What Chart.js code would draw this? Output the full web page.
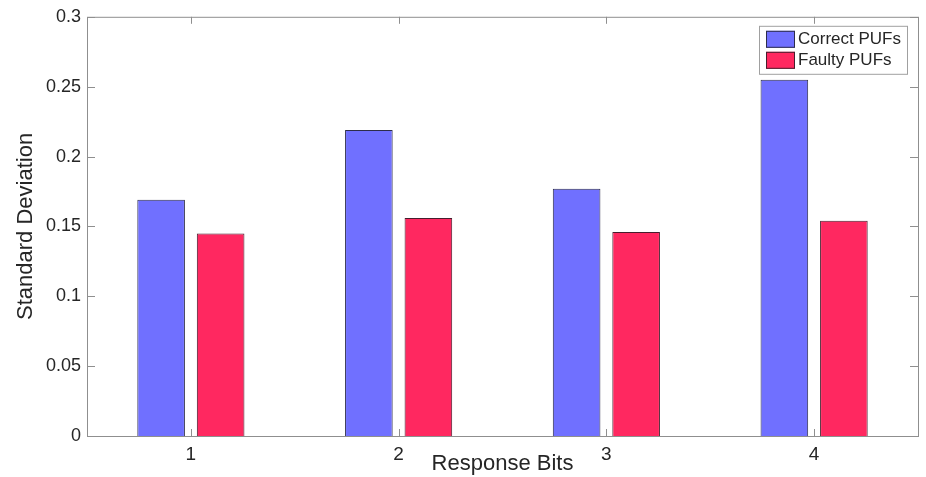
<!DOCTYPE html>
<html lang="en">
<head>
    <meta charset="UTF-8">
    <title>Standard Deviation per Response Bit</title>
    <script src="https://cdn.jsdelivr.net/npm/chart.js"></script>
    <style>
        html, body { margin: 0; padding: 0; background: #fff; }
        .chart-box { width: 926px; height: 477px; }
    </style>
</head>
<body>
<div class="chart-box">
    <canvas id="canvas"></canvas>
</div>

<script>
    // values
    const categories = ['1', '2', '3', '4'];
    const correctPufs = [0.169, 0.219, 0.177, 0.255];
    const faultyPufs = [0.145, 0.156, 0.146, 0.154];
    const yTickLabels = ['0', '0.05', '0.1', '0.15', '0.2', '0.25', '0.3'];

    const FONT = '"Liberation Sans", Arial, Helvetica, sans-serif';
    const TEXT = '#262626';
    const AXIS = '#8f8f8f';

    // matlab style box with inward ticks, plus framed legend in the top right
    const boxPlugin = {
        id: 'boxPlugin',
        afterDraw(chart) {
            const { ctx, chartArea: a, scales } = chart;
            ctx.save();
            ctx.strokeStyle = AXIS;
            ctx.lineWidth = 1;
            ctx.strokeRect(a.left + 0.5, a.top + 0.5, a.right - a.left, a.bottom - a.top);

            ctx.beginPath();
            scales.y.ticks.forEach((t, i) => {
                const y = Math.round(scales.y.getPixelForTick(i)) + 0.5;
                ctx.moveTo(a.left, y); ctx.lineTo(a.left + 8, y);
                ctx.moveTo(a.right, y); ctx.lineTo(a.right - 8, y);
            });
            scales.x.ticks.forEach((t, i) => {
                const x = Math.round(scales.x.getPixelForTick(i)) + 0.5;
                ctx.moveTo(x, a.bottom); ctx.lineTo(x, a.bottom - 7);
                ctx.moveTo(x, a.top); ctx.lineTo(x, a.top + 7);
            });
            ctx.stroke();

            // legend
            const lx = a.right - 159, ly = a.top + 9, lw = 148, lh = 48;
            ctx.fillStyle = '#fff';
            ctx.fillRect(lx, ly, lw, lh);
            ctx.strokeStyle = '#a0a0a0';
            ctx.strokeRect(lx + 0.5, ly + 0.5, lw, lh);
            ctx.font = '17px ' + FONT;
            ctx.textBaseline = 'middle';
            chart.data.datasets.forEach((ds, i) => {
                const cy = ly + 13 + i * 21;
                ctx.fillStyle = ds.backgroundColor;
                ctx.fillRect(lx + 7, cy - 8, 29, 17);
                ctx.strokeStyle = ds.borderColor;
                ctx.strokeRect(lx + 7.5, cy - 7.5, 28, 16);
                ctx.fillStyle = TEXT;
                ctx.fillText(ds.label, lx + 39, cy + 1);
            });
            ctx.restore();
        }
    };

    const ctx = document.getElementById('canvas').getContext('2d');
    new Chart(ctx, {
        type: 'bar',
        data: {
            labels: categories,
            datasets: [{
                label: 'Correct PUFs',
                data: correctPufs,
                backgroundColor: 'rgb(112, 112, 255)',
                borderColor: 'rgb(45, 45, 75)',
                borderWidth: 1
            }, {
                label: 'Faulty PUFs',
                data: faultyPufs,
                backgroundColor: 'rgb(255, 40, 96)',
                borderColor: 'rgb(70, 30, 45)',
                borderWidth: 1
            }]
        },
        options: {
            responsive: true,
            maintainAspectRatio: false,
            animation: false,
            categoryPercentage: 0.573,
            barPercentage: 0.8,
            layout: { padding: { left: 0, right: 8, top: 14, bottom: 0 } },
            plugins: {
                legend: { display: false },
                tooltip: { enabled: false }
            },
            scales: {
                x: {
                    grid: { display: false, drawTicks: false },
                    border: { display: false },
                    ticks: {
                        color: TEXT,
                        font: { family: FONT, size: 19 },
                        padding: 7,
                        maxRotation: 0
                    },
                    title: {
                        display: true,
                        text: 'Response Bits',
                        color: TEXT,
                        font: { family: FONT, size: 22 },
                        padding: { top: 0, bottom: 0 }
                    },
                    afterFit(scale) { scale.height = 41; }
                },
                y: {
                    min: 0,
                    max: 0.3,
                    grid: { display: false, drawTicks: false },
                    border: { display: false },
                    ticks: {
                        stepSize: 0.05,
                        color: TEXT,
                        font: { family: FONT, size: 18 },
                        padding: 6,
                        callback: (v, i) => yTickLabels[i]
                    },
                    title: {
                        display: true,
                        text: 'Standard Deviation',
                        color: TEXT,
                        font: { family: FONT, size: 22 },
                        padding: { top: 13, bottom: 0 }
                    },
                    afterFit(scale) { scale.width = 87; }
                }
            }
        },
        plugins: [boxPlugin]
    });
</script>
</body>
</html>
